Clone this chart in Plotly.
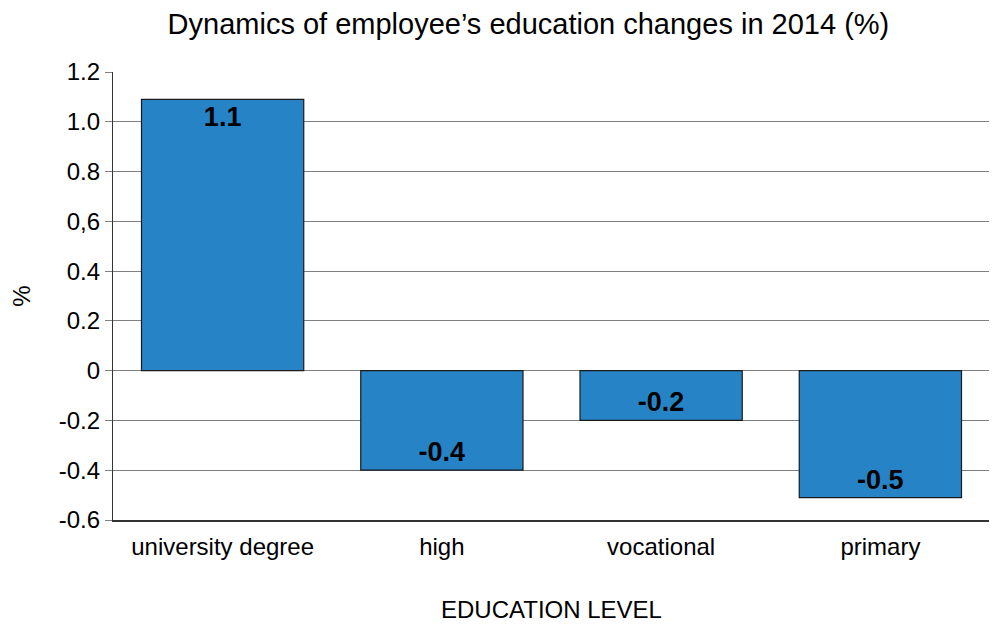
import plotly.graph_objects as go

# data
categories = ["university degree", "high", "vocational", "primary"]
values = [1.09, -0.4, -0.2, -0.51]
labels = ["1.1", "-0.4", "-0.2", "-0.5"]
tick_vals = [1.2, 1.0, 0.8, 0.6, 0.4, 0.2, 0, -0.2, -0.4, -0.6]
tick_text = ["1.2", "1.0", "0.8", "0,6", "0.4", "0.2", "0", "-0.2", "-0.4", "-0.6"]

font_family = "Liberation Sans, Arial, sans-serif"

fig = go.Figure()
fig.add_trace(go.Bar(
    x=categories,
    y=values,
    text=labels,
    texttemplate="<b>%{text}</b>",
    textposition="inside",
    insidetextanchor="end",
    textangle=0,
    textfont=dict(family=font_family, size=27, color="black"),
    marker=dict(color="#2683C6", line=dict(color="#1a1a1a", width=1.2)),
    width=0.74,
    hoverinfo="x+y",
))

# page body adds an 8px offset, so margins are shifted to compensate
fig.update_layout(
    width=997,
    height=625,
    margin=dict(l=105, r=15, t=64, b=113),
    paper_bgcolor="white",
    plot_bgcolor="white",
    showlegend=False,
    uniformtext=dict(minsize=27, mode="show"),
    title=dict(
        text="Dynamics of employee’s education changes in 2014 (%)",
        x=0.522, xanchor="center", y=0.974, yanchor="middle",
        font=dict(family=font_family, size=29, color="black"),
    ),
    font=dict(family=font_family, color="black"),
    xaxis=dict(
        automargin=False,
        showline=True, linecolor="#333333", linewidth=1.5,
        ticks="", tickfont=dict(size=24, color="black"),
        ticklabelstandoff=4,
        title=dict(text="EDUCATION LEVEL", font=dict(size=24, color="black"), standoff=43),
        showgrid=False,
    ),
    yaxis=dict(
        automargin=False,
        range=[-0.6, 1.2],
        tickvals=tick_vals, ticktext=tick_text,
        tickfont=dict(size=24, color="black"),
        showgrid=True, gridcolor="#7f7f7f", gridwidth=1.2,
        zeroline=False,
        showline=True, linecolor="#333333", linewidth=1.2, mirror=True,
        ticks="outside", ticklen=7, tickcolor="#7f7f7f",
        title=dict(text="%", font=dict(size=24, color="black"), standoff=48),
    ),
)

fig.write_html("out.html")
